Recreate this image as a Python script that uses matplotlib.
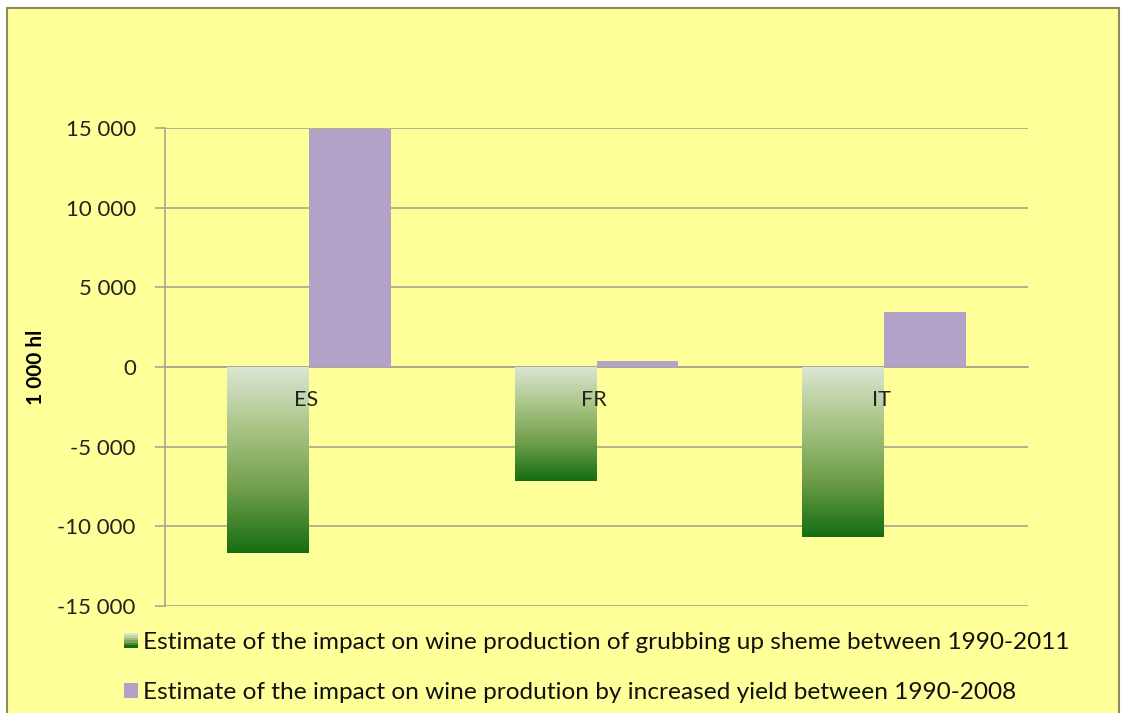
import numpy as np
import matplotlib
matplotlib.use("Agg")
import matplotlib.pyplot as plt
from matplotlib.patches import Patch, Rectangle
from matplotlib.legend_handler import HandlerBase
from matplotlib.colors import LinearSegmentedColormap
import matplotlib.transforms as mtransforms

countries = ["ES", "FR", "IT"]
grubbing = [-11700, -7150, -10700]
yield_inc = [14950, 380, 3450]
yticks = [-15000, -10000, -5000, 0, 5000, 10000, 15000]
ytick_labels = ["-15 000", "-10 000", "-5 000", "0", "5 000", "10 000", "15 000"]
label_grub = "Estimate of the impact on wine production of grubbing up sheme between 1990-2011"
label_yield = "Estimate of the impact on wine prodution by increased yield between 1990-2008"

BG = "#FFFF99"
PURPLE = "#B3A2C7"
GRID = "#A8A68A"
FONT = ["Lato", "DejaVu Sans"]
plt.rcParams["font.family"] = FONT

fig = plt.figure(figsize=(11.21, 7.13), dpi=100, facecolor="white")
fig.add_artist(Rectangle((7/1121, -0.01), (1119-7)/1121, 1 - 8/713 + 0.01, transform=fig.transFigure,
                         facecolor=BG, edgecolor="#8C8A60", linewidth=1.5, zorder=0))

ax = fig.add_axes([165/1121, 1-606/713, (1028-165)/1121, (606-128)/713])
ax.set_facecolor(BG)

x = np.arange(len(countries))
w = 0.285
bars_g = ax.bar(x - w/2, grubbing, w, color="none", zorder=3)
bars_p = ax.bar(x + w/2, yield_inc, w, color=PURPLE, zorder=3)

cmap = LinearSegmentedColormap.from_list("g", ["#DCE6D4", "#A9C486", "#6E9E4A", "#156D12"])
grad = np.linspace(0, 1, 256).reshape(-1, 1)
for b in bars_g:
    x0 = b.get_x(); x1 = x0 + b.get_width()
    y0 = b.get_y(); y1 = y0 + b.get_height()
    im = ax.imshow(grad, cmap=cmap, aspect="auto", extent=[x0, x1, min(y0, y1), max(y0, y1)],
                   origin="upper", zorder=3)
    im.set_clip_path(b)

ax.set_xlim(-0.5, len(countries) - 0.5)
ax.set_ylim(-15000, 15000)
ax.set_yticks(yticks)
ax.set_yticklabels(ytick_labels, fontsize=16, color="#222222")
ax.yaxis.grid(True, color=GRID, linewidth=1.2, zorder=1)
ax.set_axisbelow(True)
ax.tick_params(axis="y", length=7, color=GRID, width=1.2, pad=14)

ax.set_xticks([])
ax.spines["bottom"].set_position(("data", 0))
ax.spines["bottom"].set_color(GRID)
for s in ["top", "right"]:
    ax.spines[s].set_visible(False)
ax.spines["left"].set_color(GRID)
ax.spines["left"].set_linewidth(1.2)
ax.spines["bottom"].set_linewidth(1.2)

off = mtransforms.offset_copy(ax.transData, fig=fig, x=-3, y=-33, units="dots")
for xi, c in zip(x, countries):
    ax.text(xi, 0, c, transform=off, ha="center", va="center", fontsize=15.5,
            color="#222222", zorder=5)

ax.set_ylabel("1 000 hl", fontsize=15, fontweight="bold")
ax.yaxis.set_label_coords(-(165 - 46) / 863, 0.5)


class GradHandler(HandlerBase):
    def create_artists(self, legend, orig_handle, xdescent, ydescent, width, height, fontsize, trans):
        arts = []
        n = 6
        s = height
        for i in range(n):
            c = cmap(i / (n - 1))
            r = Rectangle((width - s - xdescent, -ydescent + s * (1 - (i + 1) / n)), s, s / n,
                          facecolor=c, edgecolor="none", transform=trans)
            arts.append(r)
        return arts


class SquareHandler(HandlerBase):
    def create_artists(self, legend, orig_handle, xdescent, ydescent, width, height, fontsize, trans):
        s = height
        r = Rectangle((width - s - xdescent, -ydescent), s, s, facecolor=orig_handle.get_facecolor(),
                      edgecolor="none", transform=trans)
        return [r]


h1 = Patch(facecolor="#6E9E4A")
h2 = Patch(facecolor=PURPLE)
leg = fig.legend([h1, h2], [label_grub, label_yield], loc="upper left",
                 bbox_to_anchor=(103/1121, 1-610/713), frameon=False, fontsize=17.6,
                 labelspacing=1.2, handlelength=0.55, handleheight=0.55, handletextpad=0.2,
                 handler_map={h1: GradHandler(), h2: SquareHandler()})
for t in leg.get_texts():
    t.set_color("#111111")

fig.savefig("out.png", dpi=100, facecolor="white")
